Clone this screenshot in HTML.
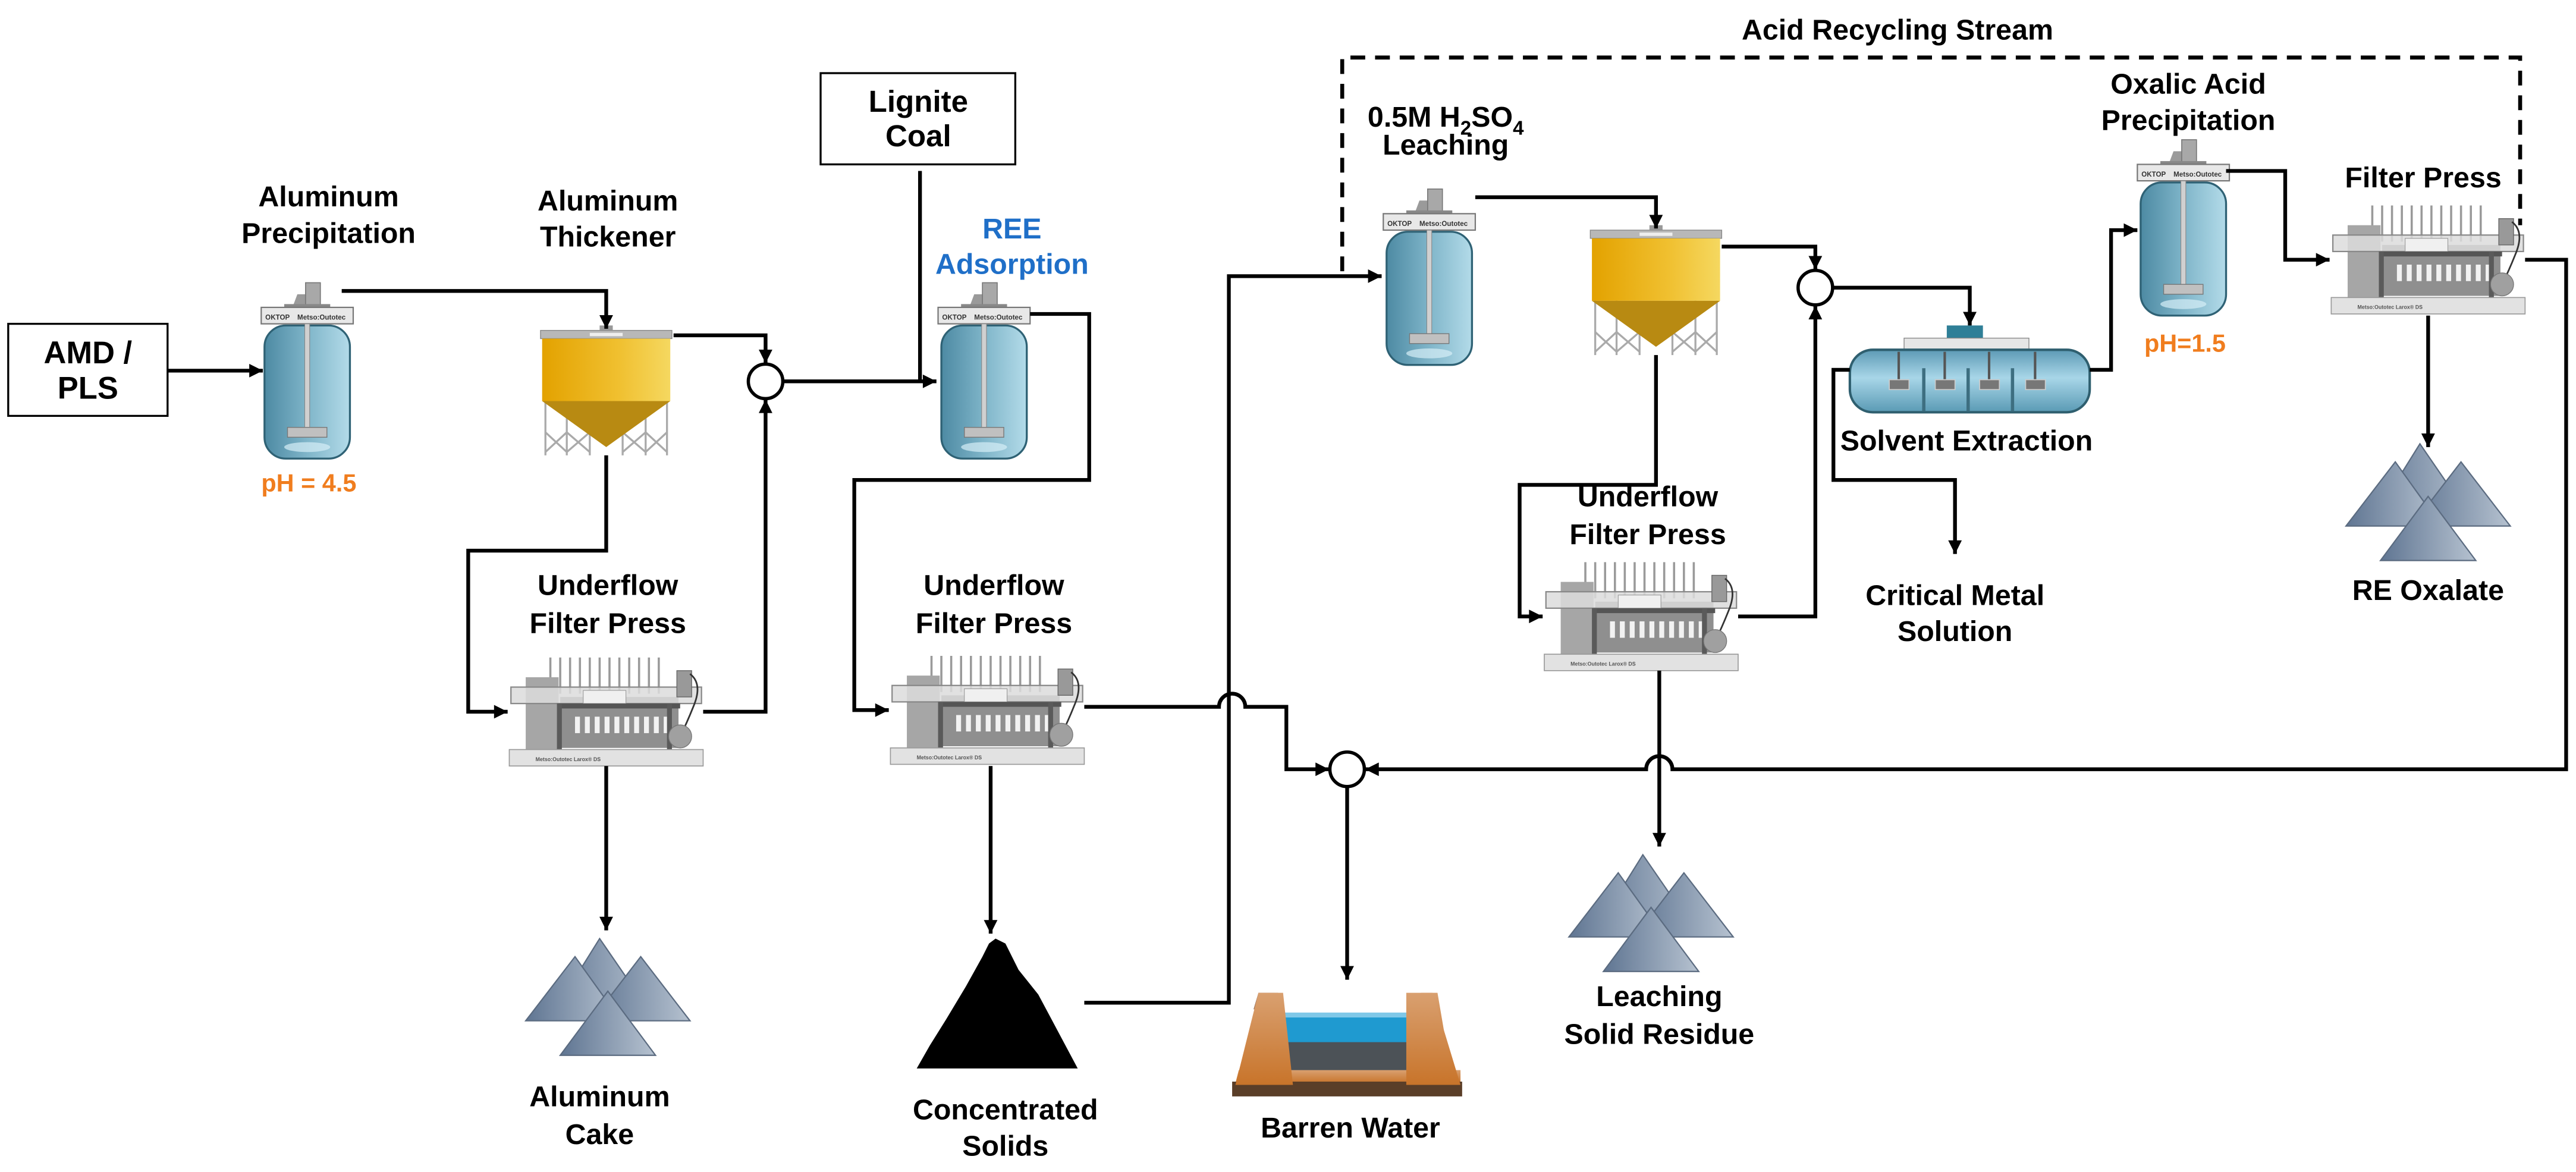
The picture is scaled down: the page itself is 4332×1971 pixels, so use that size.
<!DOCTYPE html>
<html><head><meta charset="utf-8"><style>
html,body{margin:0;padding:0;background:#fff;}
svg{display:block;}
text{font-family:"Liberation Sans",Arial,sans-serif;font-weight:bold;}
</style></head><body>
<svg width="4332" height="1971" viewBox="0 0 1568 713" preserveAspectRatio="none" xmlns="http://www.w3.org/2000/svg">
<defs>
<marker id="ar" viewBox="0 0 10 10" refX="10" refY="5" markerWidth="4" markerHeight="3.6" orient="auto" markerUnits="strokeWidth"><path d="M0,0 L10,5 L0,10 Z" fill="#000"/></marker>
<linearGradient id="gb" x1="0" x2="1"><stop offset="0" stop-color="#4d8aa3"/><stop offset="0.5" stop-color="#7fb5c9"/><stop offset="1" stop-color="#b3dbe9"/></linearGradient>
<linearGradient id="gy" x1="0" x2="1"><stop offset="0" stop-color="#e3a200"/><stop offset="0.6" stop-color="#f0c030"/><stop offset="1" stop-color="#f5d860"/></linearGradient>
<linearGradient id="gp" x1="0" x2="1"><stop offset="0" stop-color="#5f7592"/><stop offset="1" stop-color="#b6c2d0"/></linearGradient>
<linearGradient id="gsx" x1="0" y1="0" x2="0" y2="1"><stop offset="0" stop-color="#5d9ab5"/><stop offset="0.45" stop-color="#a8d6e8"/><stop offset="1" stop-color="#5a9ab4"/></linearGradient>
<linearGradient id="gbr" x1="0" y1="0" x2="0" y2="1"><stop offset="0" stop-color="#d9a070"/><stop offset="1" stop-color="#c8742a"/></linearGradient>
<symbol id="tank" viewBox="0 0 56 108" width="56" height="108" overflow="visible">
<polygon points="19,15 22,7 29,7 31,15" fill="#9a9a9a"/>
<rect x="27" y="0" width="9" height="15" fill="#a8a8a8" stroke="#777" stroke-width="0.6"/>
<rect x="14" y="13" width="28" height="3" fill="#888"/>
<rect x="2" y="26" width="52" height="81" rx="13" fill="url(#gb)" stroke="#2f6275" stroke-width="1.2"/>
<rect x="0" y="15" width="56" height="10" fill="#e8e8e8" stroke="#777" stroke-width="0.8"/>
<text x="2.5" y="22.5" font-size="4.2" fill="#333" font-weight="bold">OKTOP</text>
<text x="22" y="22.5" font-size="4.2" fill="#333" font-weight="normal">Metso:Outotec</text>
<rect x="26.5" y="25" width="3" height="66" fill="#d0d0d0" stroke="#888" stroke-width="0.4"/>
<rect x="16" y="88" width="24" height="6" fill="#c0c0c0" stroke="#777" stroke-width="0.5"/>
<ellipse cx="28" cy="100" rx="14" ry="3" fill="#d6eef6" opacity="0.7"/>
</symbol>
<symbol id="thick" viewBox="0 0 80 76" width="80" height="76" overflow="visible">
<rect x="36" y="-3" width="8" height="4" fill="#999"/>
<rect x="0" y="0" width="80" height="5" fill="#b8b8b8" stroke="#888" stroke-width="0.5"/>
<rect x="30" y="1.5" width="20" height="2" fill="#eee"/>
<g stroke="#aaa" stroke-width="1.2">
<line x1="3" y1="42" x2="3" y2="76"/><line x1="16" y1="42" x2="16" y2="76"/><line x1="30" y1="50" x2="30" y2="76"/><line x1="50" y1="50" x2="50" y2="76"/><line x1="64" y1="42" x2="64" y2="76"/><line x1="77" y1="42" x2="77" y2="76"/>
<line x1="3" y1="62" x2="16" y2="74"/><line x1="16" y1="62" x2="3" y2="74"/><line x1="16" y1="62" x2="30" y2="74"/><line x1="30" y1="62" x2="16" y2="74"/>
<line x1="50" y1="62" x2="64" y2="74"/><line x1="64" y1="62" x2="50" y2="74"/><line x1="64" y1="62" x2="77" y2="74"/><line x1="77" y1="62" x2="64" y2="74"/>
</g>
<rect x="1" y="5" width="78" height="38" fill="url(#gy)"/>
<polygon points="1,43 79,43 40,71" fill="#b88a12"/>
</symbol>
<symbol id="press" viewBox="0 0 118 66" width="118" height="66" overflow="visible">
<g stroke="#9a9a9a" stroke-width="1.3">
<line x1="25" y1="0" x2="25" y2="22"/><line x1="31" y1="0" x2="31" y2="22"/><line x1="37" y1="0" x2="37" y2="22"/><line x1="43" y1="0" x2="43" y2="22"/><line x1="49" y1="0" x2="49" y2="22"/><line x1="55" y1="0" x2="55" y2="22"/><line x1="61" y1="0" x2="61" y2="22"/><line x1="67" y1="0" x2="67" y2="22"/><line x1="73" y1="0" x2="73" y2="22"/><line x1="79" y1="0" x2="79" y2="22"/><line x1="85" y1="0" x2="85" y2="22"/><line x1="91" y1="0" x2="91" y2="22"/>
</g>
<rect x="31" y="24" width="72" height="31" fill="#8f8f8f"/>
<rect x="10" y="12" width="20" height="44" fill="#a6a6a6"/>
<rect x="1" y="18" width="116" height="10" fill="#dcdcdc" fill-opacity="0.85" stroke="#888" stroke-width="0.8"/>
<rect x="45" y="20" width="26" height="8" fill="#f0f0f0" stroke="#999" stroke-width="0.4"/>
<rect x="30" y="28" width="74" height="3" fill="#555"/>
<g fill="#f2f2f2">
<rect x="40" y="36" width="3" height="10"/><rect x="46" y="36" width="3" height="10"/><rect x="52" y="36" width="3" height="10"/><rect x="58" y="36" width="3" height="10"/><rect x="64" y="36" width="3" height="10"/><rect x="70" y="36" width="3" height="10"/><rect x="76" y="36" width="3" height="10"/><rect x="82" y="36" width="3" height="10"/><rect x="88" y="36" width="3" height="10"/><rect x="94" y="36" width="3" height="10"/>
</g>
<rect x="29" y="28" width="3" height="29" fill="#5a5a5a"/><rect x="96" y="28" width="3" height="29" fill="#5a5a5a"/>
<rect x="102" y="8" width="9" height="16" fill="#999" stroke="#666" stroke-width="0.5"/>
<path d="M110,10 Q118,16 112,30 Q108,40 104,48" fill="none" stroke="#333" stroke-width="1"/>
<circle cx="104" cy="48" r="7" fill="#a0a0a0" stroke="#777" stroke-width="0.5"/>
<rect x="0" y="56" width="118" height="10" fill="#e2e2e2" stroke="#999" stroke-width="0.6"/>
<text x="16" y="63" font-size="3.2" fill="#555" font-weight="normal">Metso:Outotec   Larox® DS</text>
</symbol>
<symbol id="pile" viewBox="0 0 100 72" width="100" height="72" overflow="visible">
<g stroke="#5b6b80" stroke-width="0.8" fill="url(#gp)">
<polygon points="45,0 15,48 78,48"/>
<polygon points="30,11 0,50 58,50"/>
<polygon points="70,11 40,50 100,50"/>
<polygon points="50,32 21,71 79,71"/>
</g>
</symbol>
</defs>

<!-- dashed recycle -->
<path d="M817,165 V35 H1534 V137" fill="none" stroke="#000" stroke-width="2.4" stroke-dasharray="9,6"/>
<text x="1155" y="24" font-size="17.5" text-anchor="middle">Acid Recycling Stream</text>

<!-- boxes -->
<rect x="5" y="197" width="97" height="56" fill="#fff" stroke="#000" stroke-width="1.2"/>
<text x="53.5" y="221" font-size="19" text-anchor="middle">AMD /</text>
<text x="53.5" y="242.5" font-size="19" text-anchor="middle">PLS</text>
<rect x="499.5" y="44.5" width="118.5" height="55.5" fill="#fff" stroke="#000" stroke-width="1.2"/>
<text x="559" y="68" font-size="18.5" text-anchor="middle">Lignite</text>
<text x="559" y="89" font-size="18.5" text-anchor="middle">Coal</text>

<!-- equipment -->
<use href="#tank" x="159" y="172"/>
<use href="#thick" x="329" y="201"/>
<use href="#tank" x="571" y="172"/>
<use href="#press" x="310" y="400"/>
<use href="#press" x="542" y="399"/>
<use href="#pile" x="320" y="571"/>
<polygon points="606,571 612,574 620,590 632,605 640,620 648,635 656,650 558,650 566,636 576,620 588,600 598,582 602,574" fill="#000"/>
<!-- pond -->
<g>
<polygon points="766,604 776,604 785,651 757,651" fill="url(#gbr)"/>
<polygon points="865,604 875,604 883,651 855,651" fill="url(#gbr)"/>
<polygon points="763,614 780,614 778,604 766,604" fill="#a07860"/>
<polygon points="781,626 862,626 856,660 787,660" fill="#4c5257"/>
<polygon points="780,617 864,617 860,634 783,634" fill="#1f9ad0"/>
<rect x="781" y="616" width="83" height="3" fill="#7fc8e8"/>
<polygon points="754,651 889,651 889,659 752,659" fill="url(#gbr)"/>
<polygon points="750,658 890,658 890,667 750,667" fill="#5a3e28"/>
<polygon points="766,604 781,604 787,660 752,660" fill="url(#gbr)"/>
<polygon points="856,604 872,604 889,660 856,660" fill="url(#gbr)"/>
</g>
<use href="#tank" x="842" y="115"/>
<use href="#thick" x="968" y="140"/>
<use href="#press" x="940" y="342"/>
<use href="#pile" x="955" y="520"/>
<!-- SX -->
<g>
<rect x="1185" y="198" width="22" height="8" fill="#2f7f97"/>
<rect x="1159" y="205.7" width="76" height="7.5" fill="#e6e6e6" stroke="#888" stroke-width="0.5"/>
<rect x="1126" y="212.8" width="146" height="38" rx="14" fill="url(#gsx)" stroke="#2f5f6f" stroke-width="1.5"/>
<g fill="#3d6e80"><rect x="1170" y="224" width="2" height="26"/><rect x="1197" y="224" width="2" height="26"/><rect x="1224" y="224" width="2" height="26"/></g>
<g fill="#555"><rect x="1155" y="214" width="1.5" height="20"/><rect x="1183" y="214" width="1.5" height="20"/><rect x="1210" y="214" width="1.5" height="20"/><rect x="1238" y="214" width="1.5" height="20"/></g>
<g fill="#777" stroke="#ccc" stroke-width="0.6"><rect x="1150" y="231" width="12" height="6"/><rect x="1178" y="231" width="12" height="6"/><rect x="1205" y="231" width="12" height="6"/><rect x="1233" y="231" width="12" height="6"/></g>
</g>
<use href="#tank" x="1301" y="85"/>
<use href="#press" x="1419" y="125"/>
<use href="#pile" x="1428" y="270"/>

<!-- circles -->
<g fill="#fff" stroke="#000" stroke-width="2">
<circle cx="466" cy="232" r="10.5"/>
<circle cx="820" cy="468" r="10.5"/>
<circle cx="1105" cy="175" r="10.5"/>
</g>

<!-- connectors -->
<g fill="none" stroke="#000" stroke-width="2.3" marker-end="url(#ar)">
<path d="M102,225.5 H160"/>
<path d="M208,177 H369 V200"/>
<path d="M410,204 H466 V221"/>
<path d="M369,277 V335 H285 V433 H309"/>
<path d="M428,433 H466 V243"/>
<path d="M369,466 V566"/>
<path d="M476,232 H570"/>
<path d="M627,191 H663 V292 H520 V432 H541"/>
<path d="M603,466 V568"/>
<path d="M660,610 H748 V168 H841"/>
<path d="M660,430 H742 A8,8 0 0 1 758,430 H783 V468 H809"/>
<path d="M820,479 V596"/>
<path d="M1537,158 H1562 V468 H1018 A8,8 0 0 0 1002,468 H831"/>
<path d="M898,120 H1008 V139"/>
<path d="M1048,150 H1105 V164"/>
<path d="M1008,216 V295 H925 V375 H939"/>
<path d="M1058,375 H1105 V186"/>
<path d="M1010,408 V515"/>
<path d="M1115,175 H1199 V198"/>
<path d="M1126,225 H1116 V292 H1190 V337"/>
<path d="M1272,225 H1285 V140 H1301"/>
<path d="M1355,104 H1391 V158 H1418"/>
<path d="M1478,192 V272"/>
</g>
<path d="M560,104 V232" fill="none" stroke="#000" stroke-width="2.3"/>

<!-- labels -->
<g font-size="17.5" text-anchor="middle" fill="#000">
<text x="200" y="125.5">Aluminum</text><text x="200" y="147.7">Precipitation</text>
<text x="370" y="128">Aluminum</text><text x="370" y="150">Thickener</text>
<text x="370" y="362">Underflow</text><text x="370" y="385">Filter Press</text>
<text x="605" y="362">Underflow</text><text x="605" y="385">Filter Press</text>
<text x="1003" y="308">Underflow</text><text x="1003" y="331">Filter Press</text>
<text x="365" y="673">Aluminum</text><text x="365" y="696">Cake</text>
<text x="612" y="681">Concentrated</text><text x="612" y="703">Solids</text>
<text x="822" y="692">Barren Water</text>
<text x="1010" y="612">Leaching</text><text x="1010" y="635">Solid Residue</text>
<text x="1190" y="368">Critical Metal</text><text x="1190" y="390">Solution</text>
<text x="1197" y="274">Solvent Extraction</text>
<text x="880" y="77">0.5M H<tspan font-size="12" dy="5">2</tspan><tspan dy="-5">SO</tspan><tspan font-size="12" dy="5">4</tspan></text>
<text x="880" y="94">Leaching</text>
<text x="1332" y="57">Oxalic Acid</text><text x="1332" y="79">Precipitation</text>
<text x="1475" y="114">Filter Press</text>
<text x="1478" y="365">RE Oxalate</text>
<text x="616" y="145" fill="#1f6fc8">REE</text><text x="616" y="166.5" fill="#1f6fc8">Adsorption</text>
<text x="188" y="299" fill="#f07d1e" font-size="15">pH = 4.5</text>
<text x="1330" y="214" fill="#f07d1e" font-size="15">pH=1.5</text>
</g>
</svg>
</body></html>
